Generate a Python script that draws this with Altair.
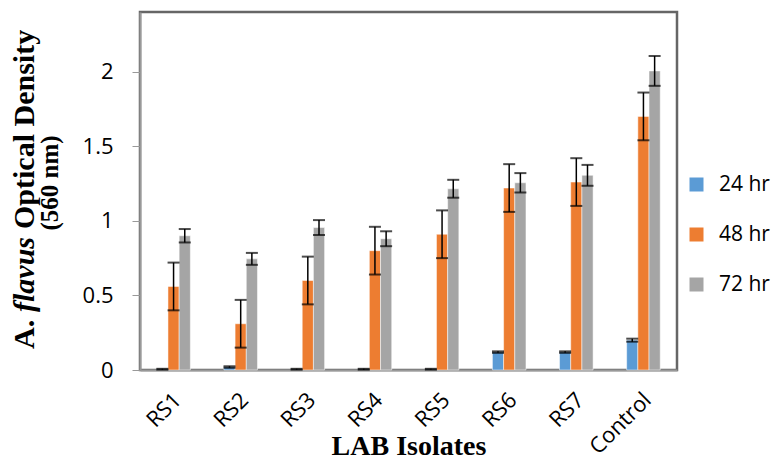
import altair as alt
import pandas as pd

categories = ["RS1", "RS2", "RS3", "RS4", "RS5", "RS6", "RS7", "Control"]
series = ["24 hr", "48 hr", "72 hr"]
colors = ["#5B9BD5", "#ED7D31", "#A5A5A5"]

v24 = [0.005, 0.02, 0.005, 0.005, 0.005, 0.12, 0.12, 0.20]
e24 = [0.003, 0.005, 0.003, 0.003, 0.003, 0.005, 0.005, 0.01]
v48 = [0.56, 0.31, 0.60, 0.80, 0.91, 1.22, 1.26, 1.70]
e48 = [0.16, 0.16, 0.16, 0.16, 0.16, 0.16, 0.16, 0.16]
v72 = [0.90, 0.745, 0.955, 0.88, 1.215, 1.255, 1.305, 2.005]
e72 = [0.045, 0.04, 0.05, 0.05, 0.06, 0.065, 0.07, 0.10]

y_ticks = [0, 0.5, 1, 1.5, 2]

rows = []
for s, vals, errs in zip(series, [v24, v48, v72], [e24, e48, e72]):
    for c, v, e in zip(categories, vals, errs):
        rows.append({"cat": c, "series": s, "value": v, "lo": v - e, "hi": v + e})
df = pd.DataFrame(rows)

LABEL_FONT = "Open Sans"
TITLE_FONT = "Liberation Serif"

x_enc = alt.X("cat:N", sort=categories,
              scale=alt.Scale(paddingInner=0.5, paddingOuter=0.25),
              axis=alt.Axis(title=None, labelAngle=-45, labelFontSize=22,
                            labelFont=LABEL_FONT, labelColor="#000",
                            ticks=False, domainColor="#999", domainWidth=2,
                            labelPadding=19, labelOffset=-3))
xoff = alt.XOffset("series:N", sort=series, scale=alt.Scale(paddingInner=0))

base = alt.Chart(df)

bars = base.mark_bar(stroke="white", strokeWidth=0.5).encode(
    x=x_enc,
    xOffset=xoff,
    y=alt.Y("value:Q", scale=alt.Scale(domain=[0, 2.4], nice=False),
            axis=alt.Axis(title=None, values=y_ticks, format="~g", grid=False,
                          labelFontSize=22, labelFont=LABEL_FONT, labelColor="#000",
                          tickSize=8, tickColor="#999", domainColor="#999",
                          domainWidth=2, labelPadding=19)),
    color=alt.Color("series:N", sort=series,
                    scale=alt.Scale(domain=series, range=colors),
                    legend=alt.Legend(title=None, orient="none", legendX=546, legendY=162,
                                      symbolType="square", symbolSize=196,
                                      symbolStrokeWidth=0, labelFontSize=21,
                                      labelFont=LABEL_FONT, labelColor="#000",
                                      rowPadding=28, labelOffset=12, padding=0,
                                      labelLimit=200)),
)

rules = base.mark_rule(color="black", strokeWidth=1.5).encode(
    x=alt.X("cat:N", sort=categories), xOffset=xoff,
    y="lo:Q", y2="hi:Q")
caps_lo = base.mark_tick(color="black", size=12, thickness=2).encode(
    x=alt.X("cat:N", sort=categories), xOffset=xoff, y="lo:Q")
caps_hi = base.mark_tick(color="black", size=12, thickness=2).encode(
    x=alt.X("cat:N", sort=categories), xOffset=xoff, y="hi:Q")

one = pd.DataFrame({"k": [0]})
def label(text, x, y, size, italic=False, align="left", angle=270, baseline="middle"):
    return alt.Chart(one).mark_text(
        text=text, font=TITLE_FONT, fontSize=size, fontWeight="bold",
        fontStyle="italic" if italic else "normal", angle=angle,
        align=align, baseline=baseline, color="#000"
    ).encode(x=alt.value(x), y=alt.value(y))

t1 = label("A.", -115, 337, 30)
t2 = label("flavus", -115, 300, 30, italic=True)
t3 = label("Optical Density", -115, 217, 30)
t4 = label("(560 nm)", -90, 171, 25, align="center")
t5 = label("LAB Isolates", 269, 443, 28, align="center", angle=0, baseline="alphabetic")

chart = alt.layer(bars, rules, caps_lo, caps_hi, t1, t2, t3, t4, t5).properties(
    width=537, height=358,
    padding={"left": 132, "top": 4, "right": 95, "bottom": 90},
    autosize="none",
).configure_view(stroke="#666", strokeWidth=2.5)

chart.save("out.html", embed_options={"renderer": "svg", "actions": False})
